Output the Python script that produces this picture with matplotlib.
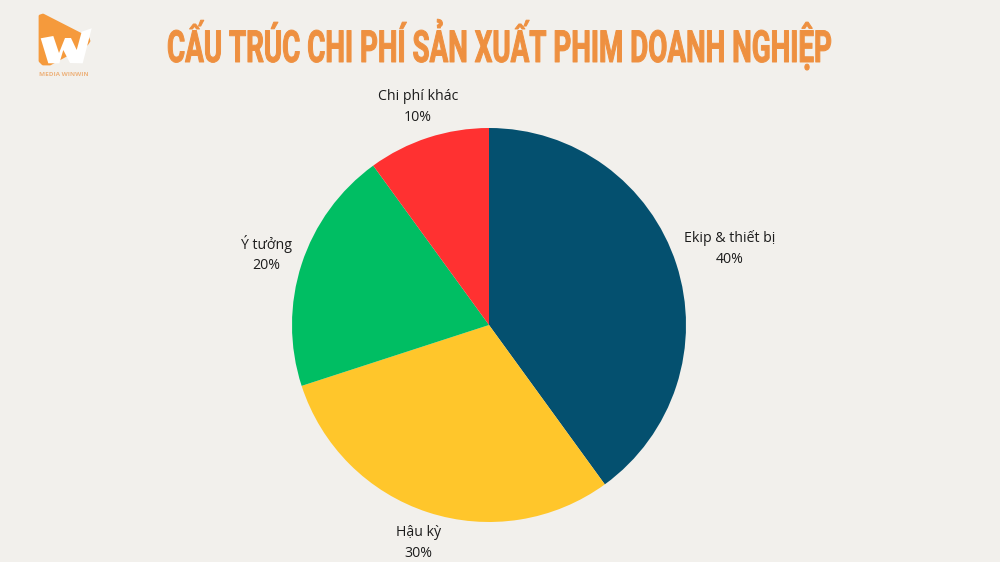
import matplotlib
matplotlib.use("Agg")
import numpy as np
import matplotlib.pyplot as plt
from matplotlib.patches import Polygon
from matplotlib.patheffects import AbstractPathEffect
from matplotlib.text import Text
from matplotlib.transforms import Affine2D

categories = ["Ekip & thiết bị", "Hậu kỳ", "Ý tưởng", "Chi phí khác"]
shares = [40, 30, 20, 10]
colors = ["#04506F", "#FFC62B", "#00BE63", "#FF3131"]
title = "CẤU TRÚC CHI PHÍ SẢN XUẤT PHIM DOANH NGHIỆP"
brand = "MEDIA WINWIN"
label_distances = [1.286, 1.155, 1.19, 1.17]
BG = "#F2F0EC"
ORANGE = "#EE9040"


class Reshape(AbstractPathEffect):
    """Condense a text's glyphs: scale about an anchor (display px) and thicken them."""
    def __init__(self, sx, sy, cx, cy, stroke):
        super().__init__()
        self.sx, self.sy, self.cx, self.cy, self.stroke = sx, sy, cx, cy, stroke

    def draw_path(self, renderer, gc, tpath, affine, rgbFace=None):
        warp = (Affine2D().translate(-self.cx, -self.cy)
                .scale(self.sx, self.sy).translate(self.cx, self.cy))
        gc0 = renderer.new_gc()
        gc0.copy_properties(gc)
        gc0.set_linewidth(self.stroke)
        gc0.set_foreground(rgbFace)
        renderer.draw_path(gc0, tpath, affine + warp, rgbFace)
        gc0.restore()


fig = plt.figure(figsize=(10, 5.62), dpi=100, facecolor=BG)

# pie: centre (489,325) px, radius 197 px
R = 197
ax = fig.add_axes([(489 - R) / 1000, (562 - 325 - R) / 562, 2 * R / 1000, 2 * R / 562])
labels = [f"{c}\n{s}%" for c, s in zip(categories, shares)]
wedges, texts = ax.pie(shares, colors=colors, startangle=90, counterclock=False,
                       labels=labels, radius=1,
                       textprops=dict(family="Open Sans", fontsize=10.2, color="#1c1c1c",
                                      linespacing=1.53))
for w, t, d in zip(wedges, texts, label_distances):
    a = np.deg2rad((w.theta1 + w.theta2) / 2)
    t.set_position((d * np.cos(a), d * np.sin(a) - 1.5 / R))
    t.set_ha("center")
    t.set_va("center")
ax.set_xlim(-1, 1)
ax.set_ylim(-1, 1)

# overlay in pixel coordinates
ov = fig.add_axes([0, 0, 1, 1], facecolor="none")
ov.set_xlim(0, 1000)
ov.set_ylim(562, 0)
ov.axis("off")

title_pt = 24
tt = ov.text(499.5, 62, title, family="Roboto", fontweight="bold",
             fontsize=title_pt, color=ORANGE, ha="center", va="baseline")
natural = tt.get_window_extent(fig.canvas.get_renderer()).width
cap_px = 0.711 * title_pt * 100 / 72
tt.set_path_effects([Reshape(665 / natural, 31.5 / cap_px, 499.5, 562 - 62, 0.7)])

# logo
ov.add_patch(Polygon([(40, 16), (43, 15), (88, 38), (89, 41), (87, 44), (50, 64), (43, 64), (40, 61)],
                     closed=True, fc="#F59A3C", ec="#F59A3C", lw=2, joinstyle="round"))
ov.add_patch(Polygon([(40.7, 38.3), (53.3, 36), (59, 53), (65, 38), (71, 38), (76.7, 50), (81.7, 31.7),
                      (91.7, 28.3), (82.7, 63.3), (70, 63), (63.3, 50), (59.3, 63.3), (48.3, 63.3)],
                     closed=True, fc="#FFFFFF", ec="none"))
ov.text(64, 74, brand, family="Open Sans", fontweight="bold", fontsize=4.6, color="#EDB27C",
        ha="center", va="center")

fig.savefig("out.png", dpi=100, facecolor=BG)
